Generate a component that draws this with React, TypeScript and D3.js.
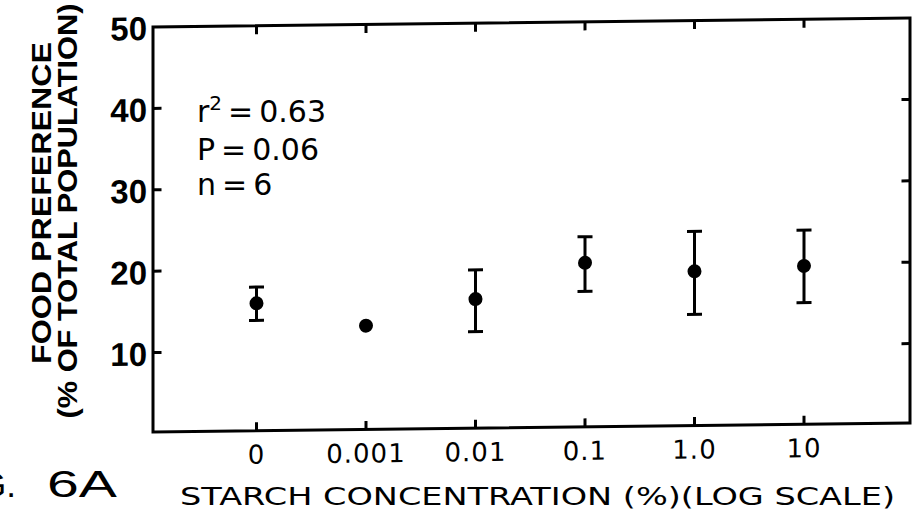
import React from "react";
import * as d3 from "d3";

// ---- data ----
const categories = ["0", "0.001", "0.01", "0.1", "1.0", "10"];
const means = [15.9, 13.0, 16.1, 20.4, 19.2, 19.7];
const upper = [17.9, 13.0, 19.7, 23.6, 24.1, 24.1];
const lower = [13.8, 13.0, 12.1, 16.9, 13.9, 15.2];
const yTicks = [10, 20, 30, 40, 50];
const yInnerTicks = [10, 20, 30, 40];
const statLines = ["P = 0.06", "n = 6"];

const W = 913;
const H = 524;
const frame = { left: 153, right: 910, bottom: 432 };

export default function App() {
  const x = d3.scalePoint<string>().domain(categories).range([256.5, 804]);
  const y = d3.scaleLinear().domain([0, 50]).range([434, 27]);
  const top = y(50);
  const sw = 3;
  const tick = 8.5;
  const skew = `translate(${frame.left},0) skewY(-0.68) translate(${-frame.left},0)`;
  const sans = "'Liberation Sans', Arial, sans-serif";
  const dv = "'DejaVu Sans', sans-serif";

  return (
    <svg
      width={W}
      height={H}
      viewBox={`0 0 ${W} ${H}`}
      style={{ position: "absolute", left: 0, top: 0, background: "#fff" }}
    >
      <rect x={0} y={0} width={W} height={H} fill="#fff" />
      <g transform={skew}>
        {/* frame */}
        <rect
          x={frame.left}
          y={top}
          width={frame.right - frame.left}
          height={frame.bottom - top}
          fill="none"
          stroke="#000"
          strokeWidth={sw}
        />
        {/* left & right ticks */}
        {yInnerTicks.map((t) => (
          <g key={"yt" + t}>
            <line x1={frame.left} x2={frame.left + tick} y1={y(t)} y2={y(t)} stroke="#000" strokeWidth={sw} />
            <line x1={frame.right - tick} x2={frame.right} y1={y(t)} y2={y(t)} stroke="#000" strokeWidth={sw} />
          </g>
        ))}
        {/* y tick labels */}
        {yTicks.map((t) => (
          <text
            key={"yl" + t}
            x={147}
            y={y(t) + 13}
            textAnchor="end"
            fontFamily={sans}
            fontWeight="bold"
            fontSize={33}
          >
            {t}
          </text>
        ))}
        {/* top & bottom ticks + labels */}
        {categories.map((c) => (
          <g key={"xt" + c}>
            <line x1={x(c)} x2={x(c)} y1={frame.bottom} y2={frame.bottom - tick} stroke="#000" strokeWidth={sw} />
            <line x1={x(c)} x2={x(c)} y1={top} y2={top + tick} stroke="#000" strokeWidth={sw} />
            <text x={x(c)} y={465} textAnchor="middle" fontFamily={dv} fontSize={26} letterSpacing={1}>
              {c}
            </text>
          </g>
        ))}
        {/* error bars and points */}
        {categories.map((c, i) => {
          const cx = x(c) as number;
          const hasErr = upper[i] > means[i];
          return (
            <g key={"pt" + c}>
              {hasErr && (
                <g stroke="#000" strokeWidth={3}>
                  <line x1={cx} x2={cx} y1={y(upper[i])} y2={y(lower[i])} />
                  <line x1={cx - 7.5} x2={cx + 7.5} y1={y(upper[i])} y2={y(upper[i])} />
                  <line x1={cx - 7.5} x2={cx + 7.5} y1={y(lower[i])} y2={y(lower[i])} />
                </g>
              )}
              <circle cx={cx} cy={y(means[i])} r={7} fill="#000" />
            </g>
          );
        })}
      </g>

      {/* statistics annotation */}
      <text x={197} y={122} fontFamily={dv} fontSize={30}>
        r
        <tspan fontSize={20} dy={-12}>2</tspan>
        <tspan dy={12}>{"\u2009=\u20090.63"}</tspan>
      </text>
      <text x={197} y={160} fontFamily={dv} fontSize={30}>
        {statLines[0].replace(/ /g, "\u2009")}
      </text>
      <text x={197} y={195} fontFamily={dv} fontSize={30}>
        {statLines[1].replace(/ /g, "\u2009")}
      </text>

      {/* y axis title */}
      <text
        transform="translate(51,203) rotate(-90)"
        textAnchor="middle"
        fontFamily={sans}
        fontWeight="bold"
        fontSize={28}
        textLength={322}
        lengthAdjust="spacingAndGlyphs"
      >
        FOOD PREFERENCE
      </text>
      <text
        transform="translate(77,211) rotate(-90)"
        textAnchor="middle"
        fontFamily={sans}
        fontWeight="bold"
        fontSize={28}
        textLength={415}
        lengthAdjust="spacingAndGlyphs"
      >
        (% OF TOTAL POPULATION)
      </text>

      {/* x axis title */}
      <text
        x={180}
        y={505}
        fontFamily={dv}
        fontSize={25}
        textLength={715}
        lengthAdjust="spacingAndGlyphs"
      >
        STARCH CONCENTRATION (%)(LOG SCALE)
      </text>

      {/* figure label (partly outside the page, as in the scan) */}
      <text x={16} y={497} textAnchor="end" fontFamily={sans} fontSize={35}>
        FIG.
      </text>
      <text x={47} y={497} fontFamily={sans} fontSize={36} textLength={70} lengthAdjust="spacingAndGlyphs">
        6A
      </text>
    </svg>
  );
}
